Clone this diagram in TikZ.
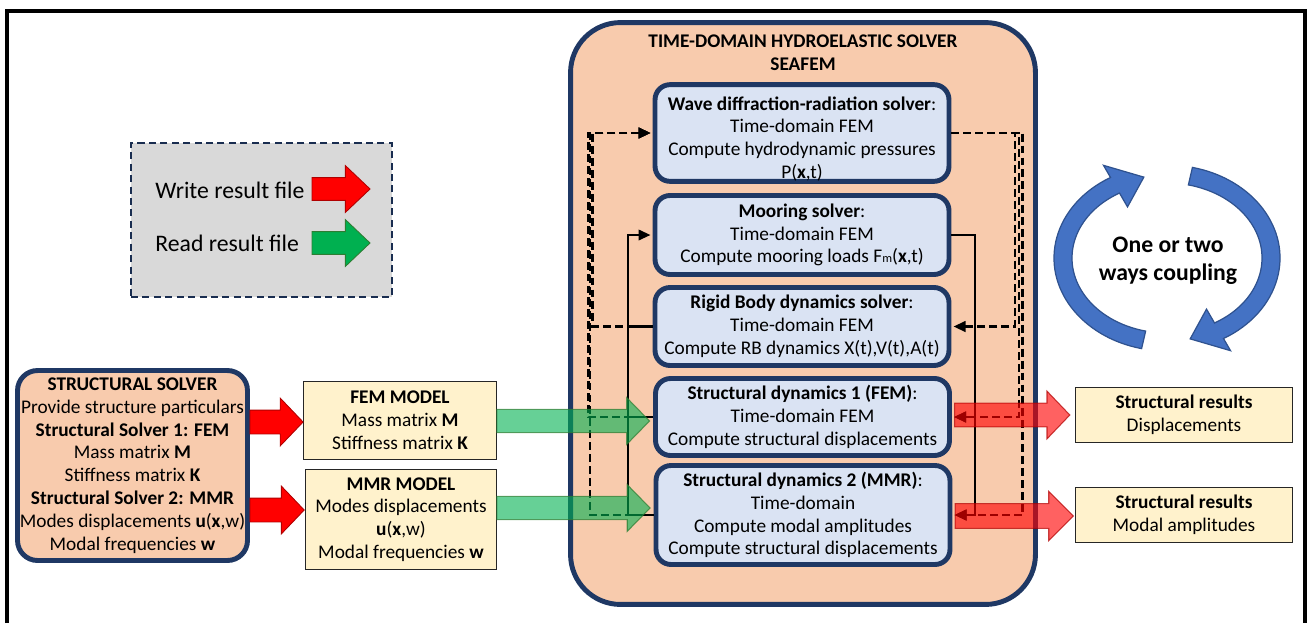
\documentclass[tikz,border=0pt]{standalone}
\usepackage{fontspec}
\setmainfont{Carlito}
\usetikzlibrary{arrows.meta,calc}

\definecolor{navy}{HTML}{1F3864}
\definecolor{peach}{HTML}{F8CBAD}
\definecolor{paleblue}{HTML}{DAE3F3}
\definecolor{cream}{HTML}{FFF2CC}
\definecolor{legendgray}{HTML}{D9D9D9}
\definecolor{wred}{HTML}{FF0000}
\definecolor{wrededge}{HTML}{B00000}
\definecolor{rgreen}{HTML}{00B050}
\definecolor{rgreenedge}{HTML}{2E7D32}
\definecolor{cblue}{HTML}{4472C4}
\definecolor{cblueedge}{HTML}{2F528F}

% block arrow: #1 style, #2 start point (gives the axis height), #3 tip point,
% #4 shaft half-height, #5 head half-height, #6 head length
\newcommand\blockarrow[6]{%
  \path[#1] let \p1=(#2), \p2=(#3) in
    (\x1,\y1+#4) -- (\x2-#6,\y1+#4) -- (\x2-#6,\y1+#5) -- (\x2,\y1)
    -- (\x2-#6,\y1-#5) -- (\x2-#6,\y1-#4) -- (\x1,\y1-#4) -- cycle;}

\begin{document}
\begin{tikzpicture}[x=0.02cm, y=-0.02cm,
  font=\fontsize{11}{13}\selectfont,
  solverbox/.style={draw=navy, line width=2.8pt, fill=paleblue,
    rounded corners=0.3cm, align=center, inner sep=0pt, minimum width=5.88cm},
  modelbox/.style={draw=black!85, line width=0.8pt, fill=cream,
    align=center, inner sep=0pt},
  dline/.style={line width=1.35pt, dash pattern=on 4.5pt off 2.3pt},
  sline/.style={line width=1.2pt},
  tip/.style={-{Triangle[length=6.8pt,width=6pt]}, shorten >=1.2pt},
  rtip/.style={{Triangle[length=6.8pt,width=6pt]}-, shorten <=1.2pt},
  writearrow/.style={fill=wred, draw=wrededge, line width=0.5pt},
  readarrow/.style={fill=rgreen, draw=rgreenedge, line width=0.5pt},
  readflow/.style={fill=rgreen, fill opacity=0.6, draw=rgreenedge, draw opacity=0.7, line width=0.6pt},
  writeflow/.style={fill=wred, fill opacity=0.62, draw=wrededge, draw opacity=0.7, line width=0.6pt},
  loop/.style={fill=cblue, draw=cblueedge, line width=0.7pt}
]
\useasboundingbox (0,0) rectangle (1311,623);

% page frame (open at the bottom)
\draw[line width=2pt] (7,623) -- (7,11) -- (1305,11) -- (1305,623);

% legend
\node[draw=navy!80!black, line width=1.2pt, dash pattern=on 4pt off 2.5pt,
      fill=legendgray, minimum width=5.22cm, minimum height=3.08cm] (legend) at (261.5,220) {};
\node[anchor=west, inner sep=0pt, font=\fontsize{13.5}{16}\selectfont] (lwrite) at (155,190) {Write result file};
\node[anchor=west, inner sep=0pt, font=\fontsize{13.5}{16}\selectfont] (lread) at (155,243) {Read result file};
\blockarrow{writearrow}{312,189}{370,189}{6.5pt}{13.3pt}{14pt}
\blockarrow{readarrow}{312,243}{370,243}{6.5pt}{13.3pt}{14pt}

% structural solver and its exported models
\node[draw=navy, line width=2.8pt, fill=peach, rounded corners=0.4cm,
      minimum width=4.6cm, minimum height=3.8cm, align=center, inner sep=0pt] (ss) at (132.5,465.5)
  {\textbf{STRUCTURAL SOLVER}\\ Provide structure particulars\\ \textbf{Structural Solver 1: FEM}\\
   Mass matrix \textbf{M}\\ Stiffness matrix \textbf{K}\\ \textbf{Structural Solver 2: MMR}\\
   Modes displacements \textbf{u}(\textbf{x},w)\\ Modal frequencies \textbf{w}};

\node[modelbox, minimum width=3.85cm, minimum height=1.55cm] (fem) at (400,420.5)
  {\textbf{FEM MODEL}\\ Mass matrix \textbf{M}\\ Stiffness matrix \textbf{K}};
\node[modelbox, minimum width=3.81cm, minimum height=1.99cm] (mmr) at (401,519.5)
  {\textbf{MMR MODEL}\\ Modes displacements\\ \textbf{u}(\textbf{x},w)\\ Modal frequencies \textbf{w}};

% hydroelastic solver
\node[draw=navy, line width=2.8pt, fill=peach, rounded corners=1cm,
      minimum width=9.3cm, minimum height=11.64cm] (hydro) at (803,313.5) {};
\node[align=center, inner sep=0pt, font=\fontsize{11}{13}\selectfont\bfseries] (title) at (803,53)
  {TIME-DOMAIN HYDROELASTIC SOLVER\\ SEAFEM};

\node[solverbox, minimum height=1.86cm] (wave) at (802,133)
  {\rule{0pt}{14.5pt}\textbf{Wave diffraction-radiation solver}:\\ Time-domain FEM\\
   Compute hydrodynamic pressures\\ P(\textbf{x},t)};
\node[solverbox, minimum height=1.58cm] (moor) at (802,235)
  {\textbf{Mooring solver}:\\ Time-domain FEM\\ Compute mooring loads F{\scriptsize m}(\textbf{x},t)};
\node[solverbox, minimum height=1.56cm] (rigid) at (802,326.5)
  {\textbf{Rigid Body dynamics solver}:\\ Time-domain FEM\\ Compute RB dynamics X(t),V(t),A(t)};
\node[solverbox, minimum height=1.54cm] (s1) at (802.5,417)
  {\textbf{Structural dynamics 1 (FEM)}:\\ Time-domain FEM\\ Compute structural displacements};
\node[solverbox, minimum height=1.98cm] (s2) at (803,515)
  {\textbf{Structural dynamics 2 (MMR)}:\\ Time-domain\\ Compute modal amplitudes\\ Compute structural displacements};

% result files
\node[modelbox, minimum width=4.33cm, minimum height=1.09cm] (r1) at (1184,415)
  {\textbf{Structural results}\\ Displacements};
\node[modelbox, minimum width=4.33cm, minimum height=1.09cm] (r2) at (1184,515)
  {\textbf{Structural results}\\ Modal amplitudes};

% bus lines inside the hydroelastic solver
\coordinate (bL1) at (592.5,0);
\coordinate (bL2) at (588.5,0);
\coordinate (bL3) at (590,0);
\coordinate (bLs) at (628,0);
\coordinate (bR1) at (1015,0);
\coordinate (bR2) at (1019,0);
\coordinate (bR3) at (1022.5,0);
\coordinate (bRs) at (975,0);

% body and structure motions fed back to the wave solver
\draw[dline, rtip] (wave.west) -- (wave.west -| bL1) -- (bL1 |- rigid.west) -- (rigid.west);
\draw[dline, rtip] (wave.west) -- (wave.west -| bL2) -- (bL2 |- s1.west) -- (s1.west);
\draw[dline, rtip] (wave.west) -- (wave.west -| bL3) -- (bL3 |- s2.west) -- (s2.west);

% motions fed to the mooring solver
\draw[sline, rtip] (moor.west) -- (moor.west -| bLs) -- (bLs |- s2.west) -- (s2.west);
\draw[sline] (rigid.west) -- (rigid.west -| bLs);
\draw[sline] (s1.west) -- (s1.west -| bLs);

% hydrodynamic pressures passed on
\draw[dline, tip] (wave.east) -- (wave.east -| bR1) -- (bR1 |- rigid.east) -- (rigid.east);
\draw[dline, tip] (wave.east) -- (wave.east -| bR2) -- (bR2 |- s1.east) -- (s1.east);
\draw[dline, tip] (wave.east) -- (wave.east -| bR3) -- (bR3 |- s2.east) -- (s2.east);

% mooring loads passed on
\draw[sline, tip] (moor.east) -- (moor.east -| bRs) -- (bRs |- s2.east) -- (s2.east);
\draw[sline, tip] (bRs |- s1.east) -- (s1.east);

% file transfers
\blockarrow{writearrow}{ss.east |- 0,422}{fem.west}{6.8pt}{13.6pt}{13pt}
\blockarrow{writearrow}{ss.east |- 0,510}{[xshift=-0.5pt]mmr.west}{6.8pt}{13.6pt}{13pt}
\blockarrow{readflow}{fem.east |- 0,421}{[xshift=-2pt]s1.west}{6.6pt}{13.3pt}{13pt}
\blockarrow{readflow}{mmr.east |- 0,508}{[xshift=-2pt]s2.west}{6.6pt}{13.3pt}{13pt}
\blockarrow{writeflow}{[xshift=1.5pt]s1.east |- 0,415}{[xshift=-3pt]r1.west}{6.8pt}{13.6pt}{13pt}
\blockarrow{writeflow}{[xshift=1.5pt]s2.east |- 0,516}{[xshift=-1pt]r2.west}{7pt}{14pt}{14pt}

% coupling loop
\coordinate (cc) at (1167,258);
\path[loop] ($(cc)+(103:113 and 93)$)
    arc[start angle=103, end angle=240, x radius=113, y radius=93]
    -- ($(cc)+(240:127 and 107)$) -- ($(cc)+(257:103 and 83)$) -- ($(cc)+(240:79 and 59)$)
    -- ($(cc)+(240:95 and 75)$)
    arc[start angle=240, end angle=103, x radius=95, y radius=75] -- cycle;
\path[loop] ($(cc)+(283:113 and 93)$)
    arc[start angle=283, end angle=420, x radius=113, y radius=93]
    -- ($(cc)+(420:127 and 107)$) -- ($(cc)+(437:103 and 83)$) -- ($(cc)+(420:79 and 59)$)
    -- ($(cc)+(420:95 and 75)$)
    arc[start angle=420, end angle=283, x radius=95, y radius=75] -- cycle;
\node[align=center, inner sep=0pt, font=\fontsize{13.5}{16}\selectfont\bfseries] (coupling) at (1168,261)
  {One or two\\ ways coupling};
\end{tikzpicture}
\end{document}
